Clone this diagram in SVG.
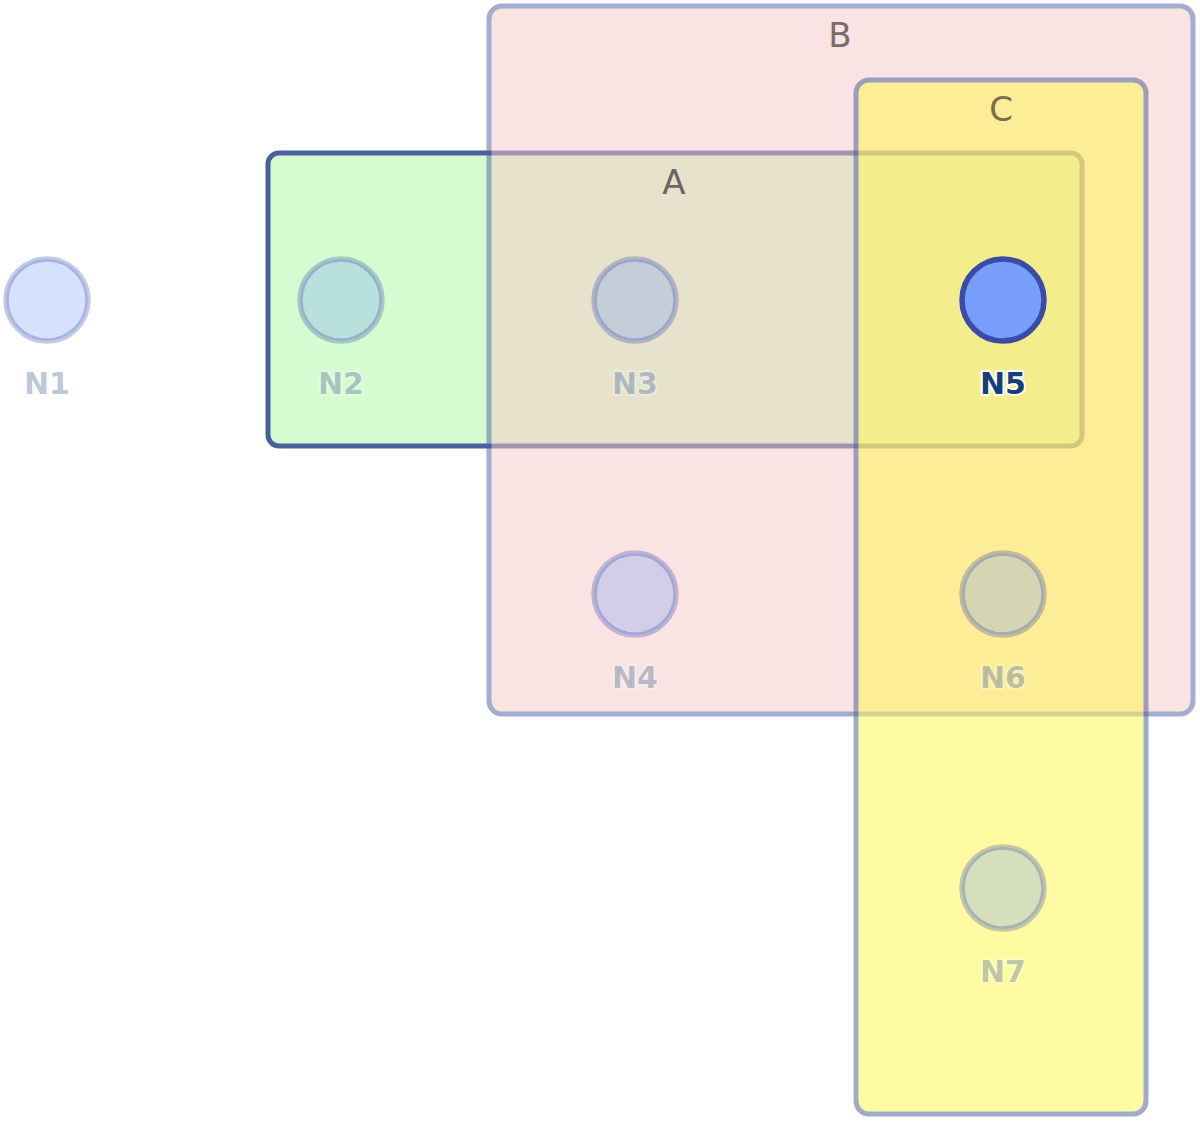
<svg xmlns="http://www.w3.org/2000/svg" width="1200" height="1121" viewBox="0 0 1200 1121">
<style>
.grp{stroke:#4a5f9e;stroke-width:5}
.glabel{font-family:"DejaVu Sans",Verdana,sans-serif;font-size:34px;text-anchor:middle}
.node circle{fill:#769efa;stroke:#3a4ca8;stroke-width:5.5}
.faded circle{fill-opacity:0.3;stroke-opacity:0.3}
.node text{font-family:"DejaVu Sans",Verdana,sans-serif;font-weight:bold;font-size:30px;text-anchor:middle;fill:#163f78;stroke:#ffffff;stroke-width:4;stroke-linejoin:round;paint-order:stroke}
.faded text{fill-opacity:0.3;stroke-opacity:0.3}
</style>
<rect width="1200" height="1121" fill="#ffffff"/>
<g id="groupA">
<rect class="grp" x="268" y="153" width="814" height="293" rx="11" fill="#d5fcd0"/>
</g>
<g id="groupB" opacity="0.5">
<rect class="grp" x="489" y="6" width="704" height="708" rx="13" fill="#f7c9c9"/>
</g>
<g id="groupC" opacity="0.52">
<rect class="grp" x="856" y="80" width="290" height="1034" rx="13" fill="#fff850"/>
</g>
<g id="group-labels">
<text class="glabel" x="674" y="194" fill="#726264">A</text>
<text class="glabel" x="840" y="47" fill="#7a6b6c">B</text>
<text class="glabel" x="1001" y="121" fill="#77704a">C</text>
</g>
<g id="connectors"></g>
<g id="N1" class="node faded"><circle cx="47" cy="300" r="41"/><text x="47" y="394">N1</text></g>
<g id="N2" class="node faded"><circle cx="341" cy="300" r="41"/><text x="341" y="394">N2</text></g>
<g id="N3" class="node faded"><circle cx="635" cy="300" r="41"/><text x="635" y="394">N3</text></g>
<g id="N4" class="node faded"><circle cx="635" cy="594" r="41"/><text x="635" y="688">N4</text></g>
<g id="N5" class="node"><circle cx="1003" cy="300" r="41"/><text x="1003" y="394">N5</text></g>
<g id="N6" class="node faded"><circle cx="1003" cy="594" r="41"/><text x="1003" y="688">N6</text></g>
<g id="N7" class="node faded"><circle cx="1003" cy="888" r="41"/><text x="1003" y="982">N7</text></g>
</svg>
